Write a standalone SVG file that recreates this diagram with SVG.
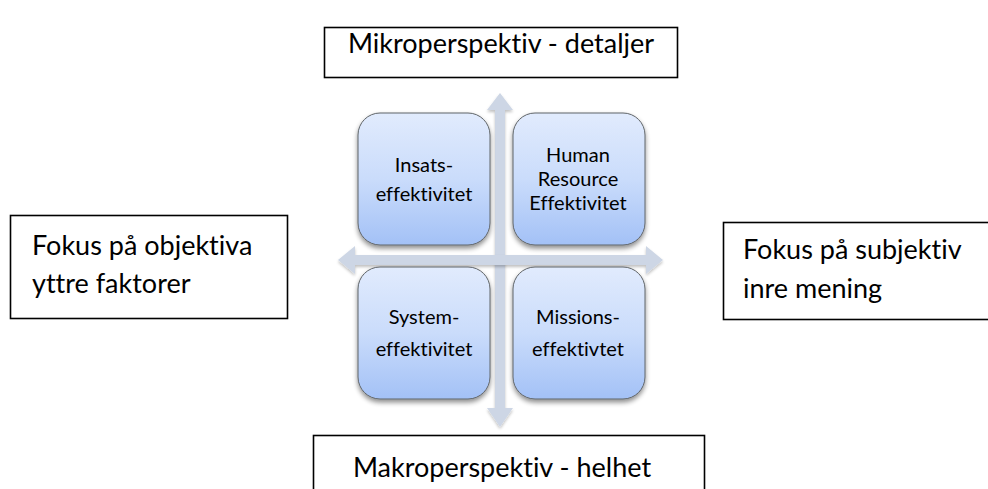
<svg xmlns="http://www.w3.org/2000/svg" width="988" height="489" viewBox="0 0 988 489">
<style>
.lbl{fill:none;stroke:#000;stroke-width:1.6}
.outer{font-family:Lato,"Open Sans",sans-serif;font-size:27px;fill:#000;font-variant-ligatures:none}
.q{fill:url(#qg);stroke:#5f6468;stroke-width:1;filter:url(#sh)}
.qt{font-family:Lato,"Open Sans",sans-serif;font-size:20px;fill:#000;text-anchor:middle;font-variant-ligatures:none}
.arr{fill:#cdd6e5;filter:url(#ash)}
</style>
<defs>
<linearGradient id="qg" x1="0" y1="0" x2="0" y2="1">
<stop offset="0" stop-color="#e1ebfd"/>
<stop offset="0.5" stop-color="#cadcfb"/>
<stop offset="1" stop-color="#a3c1f6"/>
</linearGradient>
<filter id="sh" x="-20%" y="-20%" width="140%" height="150%">
<feGaussianBlur in="SourceAlpha" stdDeviation="2.5"/>
<feOffset dx="0" dy="3" result="b"/>
<feComponentTransfer><feFuncA type="linear" slope="0.45"/></feComponentTransfer>
<feMerge><feMergeNode/><feMergeNode in="SourceGraphic"/></feMerge>
</filter>
<filter id="ash" x="-10%" y="-10%" width="120%" height="130%">
<feGaussianBlur in="SourceAlpha" stdDeviation="1.5"/>
<feOffset dx="0" dy="2" result="b"/>
<feComponentTransfer><feFuncA type="linear" slope="0.25"/></feComponentTransfer>
<feMerge><feMergeNode/><feMergeNode in="SourceGraphic"/></feMerge>
</filter>
</defs>

<g id="connectors">
<polygon class="arr" points="500,93 513,110 505,110 505,408 513,408 500,427 487,408 495,408 495,110 487,110"/>
<polygon class="arr" points="338,260 355,246 355,255 646,255 646,246 663,260 646,274 646,265 355,265 355,274"/>
</g>

<g id="top-label">
<rect class="lbl" x="324.5" y="27.5" width="353" height="50"/>
<text class="outer" x="501" y="53" text-anchor="middle">Mikroperspektiv - detaljer</text>
</g>
<g id="left-label">
<rect class="lbl" x="10.5" y="215.5" width="277" height="103"/>
<text class="outer" x="32" y="255">Fokus på objektiva</text>
<text class="outer" x="32" y="293">yttre faktorer</text>
</g>
<g id="right-label">
<rect class="lbl" x="723.5" y="222.5" width="280" height="97"/>
<text class="outer" x="743" y="259">Fokus på subjektiv</text>
<text class="outer" x="743" y="298">inre mening</text>
</g>
<g id="bottom-label">
<rect class="lbl" x="313.5" y="435.5" width="391" height="70"/>
<text class="outer" x="502" y="477" text-anchor="middle">Makroperspektiv - helhet</text>
</g>

<g id="q-insats">
<rect class="q" x="358" y="113" width="132" height="132" rx="22"/>
<text class="qt" x="424" y="172">Insats-</text>
<text class="qt" x="424" y="201">effektivitet</text>
</g>
<g id="q-hr">
<rect class="q" x="513" y="113" width="132" height="132" rx="22"/>
<text class="qt" x="578" y="162">Human</text>
<text class="qt" x="578" y="186">Resource</text>
<text class="qt" x="578" y="210">Effektivitet</text>
</g>
<g id="q-system">
<rect class="q" x="358" y="267" width="132" height="132" rx="22"/>
<text class="qt" x="424" y="324">System-</text>
<text class="qt" x="424" y="356">effektivitet</text>
</g>
<g id="q-missions">
<rect class="q" x="513" y="267" width="132" height="132" rx="22"/>
<text class="qt" x="578" y="324">Missions-</text>
<text class="qt" x="578" y="356">effektivtet</text>
</g>
</svg>
